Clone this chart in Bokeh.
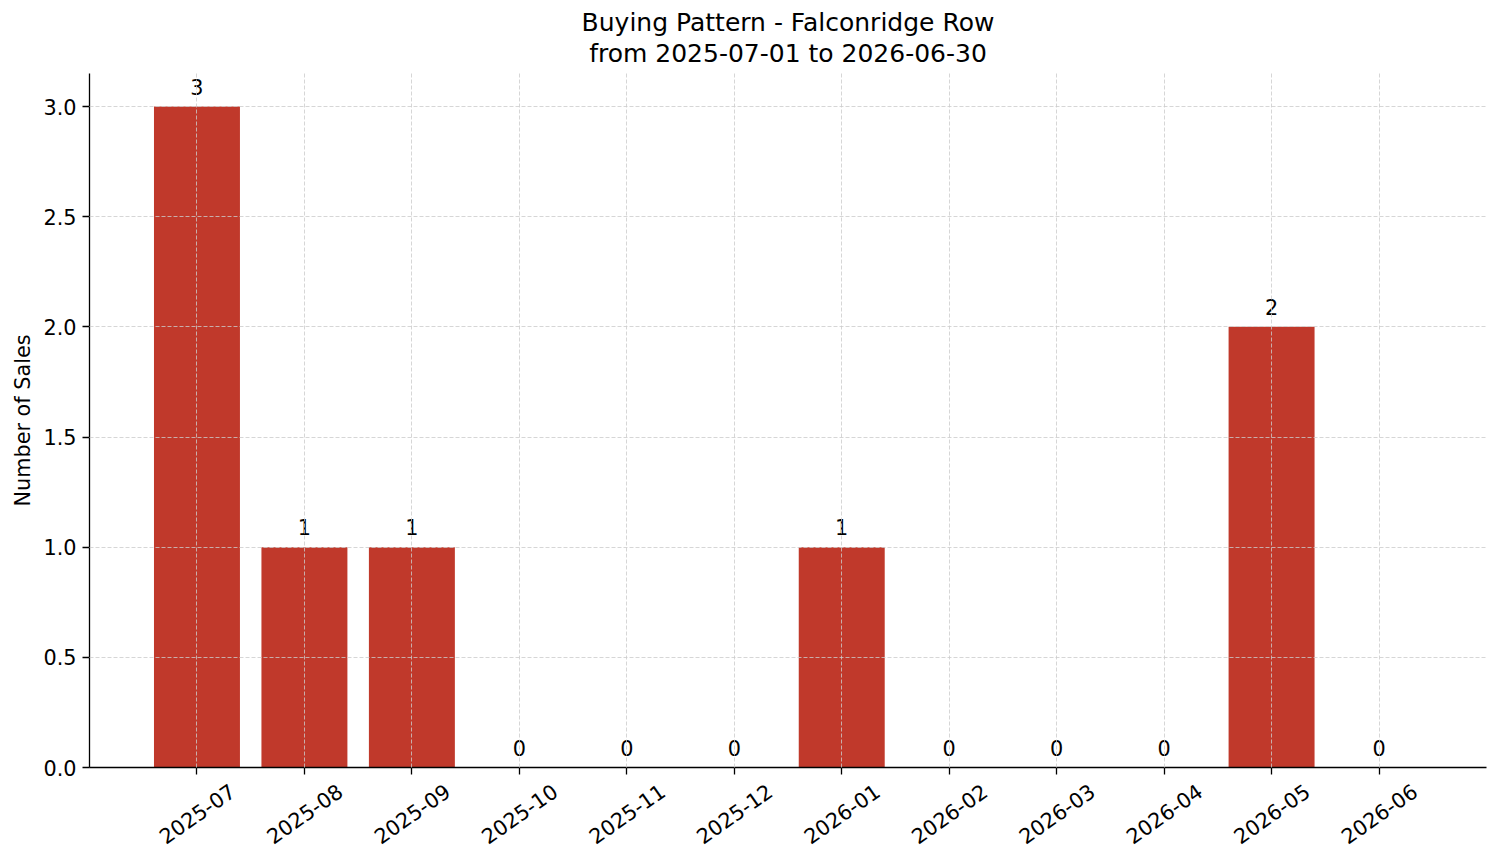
import math
from bokeh.plotting import figure
from bokeh.layouts import column
from bokeh.models import ColumnDataSource, FixedTicker, Range1d, Title
from bokeh.embed import file_html
from bokeh.resources import INLINE
from bokeh.core.properties import value

months = ["2025-07", "2025-08", "2025-09", "2025-10", "2025-11", "2025-12",
          "2026-01", "2026-02", "2026-03", "2026-04", "2026-05", "2026-06"]
sales = [3, 1, 1, 0, 0, 0, 1, 0, 0, 0, 2, 0]
y_ticks = [0.0, 0.5, 1.0, 1.5, 2.0, 2.5, 3.0]
title_line1 = "Buying Pattern - Falconridge Row"
title_line2 = "from 2025-07-01 to 2026-06-30"

FONT = "DejaVu Sans"
TICK_FS = "20.8px"
xs = list(range(len(months)))
src = ColumnDataSource(dict(x=xs, top=sales, label=[str(v) for v in sales]))
tick_src = ColumnDataSource(dict(x=xs, y=[1.0] * len(xs), label=months))

x_range = Range1d(-1.0, len(months))
p = figure(width=1501, height=780, output_backend="svg", toolbar_location=None,
           x_range=x_range, y_range=Range1d(0, max(sales) * 1.05),
           min_border_left=89, min_border_right=15, min_border_top=73, min_border_bottom=13)
p.outline_line_color = None
p.background_fill_color = "white"
p.border_fill_color = "white"

p.vbar(x="x", top="top", width=0.8, bottom=0, source=src, color="#c0392b", line_color=None)
p.text(x="x", y="top", text="label", source=src, text_align="center", text_baseline="alphabetic",
       y_offset=-20, text_font=value(FONT), text_font_size=TICK_FS, text_color="black")

# titles (each line centred)
p.title.text = title_line1
p.title.align = "center"
p.title.text_font = FONT
p.title.text_font_size = "25px"
p.title.text_font_style = "normal"
p.title.text_color = "black"
p.title.standoff = -10
p.title.text_line_height = 0.85
t2 = Title(text=title_line2, align="center", text_font=FONT, text_font_size="25px",
           text_font_style="normal", text_color="black", standoff=11, text_line_height=0.85)
p.add_layout(t2, "above")

p.xaxis.ticker = FixedTicker(ticks=xs)
p.xaxis.major_label_overrides = {i: "" for i in xs}
p.xaxis.major_label_standoff = 0
p.yaxis.ticker = FixedTicker(ticks=y_ticks)
p.yaxis.major_label_overrides = {t: f"{t:.1f}" for t in y_ticks}
p.yaxis.axis_label = "Number of Sales"
p.yaxis.axis_label_standoff = 5
p.yaxis.major_label_standoff = 6

for ax in (p.xaxis, p.yaxis):
    ax.axis_line_color = "black"
    ax.axis_line_width = 1.3
    ax.major_tick_line_color = "black"
    ax.major_tick_line_width = 1.3
    ax.major_tick_out = 7
    ax.major_tick_in = 0
    ax.minor_tick_line_color = None
    ax.major_label_text_font = FONT
    ax.major_label_text_font_size = TICK_FS
    ax.major_label_text_color = "black"
    ax.axis_label_text_font = FONT
    ax.axis_label_text_font_size = TICK_FS
    ax.axis_label_text_font_style = "normal"
    ax.axis_label_text_color = "black"

for g in (p.xgrid, p.ygrid):
    g.grid_line_color = "#cccccc"
    g.grid_line_dash = "4 2"
    g.grid_line_width = 0.8
    g.level = "overlay"
p.xgrid.ticker = FixedTicker(ticks=xs)
p.ygrid.ticker = FixedTicker(ticks=y_ticks)

# strip under the plot holding the rotated month labels, sharing the x scale
lab = figure(width=1501, height=83, output_backend="svg", toolbar_location=None,
             x_range=x_range, y_range=Range1d(0, 1),
             min_border_left=89, min_border_right=15, min_border_top=0, min_border_bottom=0)
lab.axis.visible = False
lab.grid.visible = False
lab.outline_line_color = None
lab.border_fill_color = "white"
lab.background_fill_color = "white"
lab.text(x="x", y="y", text="label", source=tick_src, y_offset=33,
         angle=math.radians(35), text_align="center", text_baseline="middle",
         text_font=value(FONT), text_font_size=TICK_FS, text_color="black")

layout = column(p, lab, spacing=0)
open("out.html", "w").write(file_html(layout, INLINE))
